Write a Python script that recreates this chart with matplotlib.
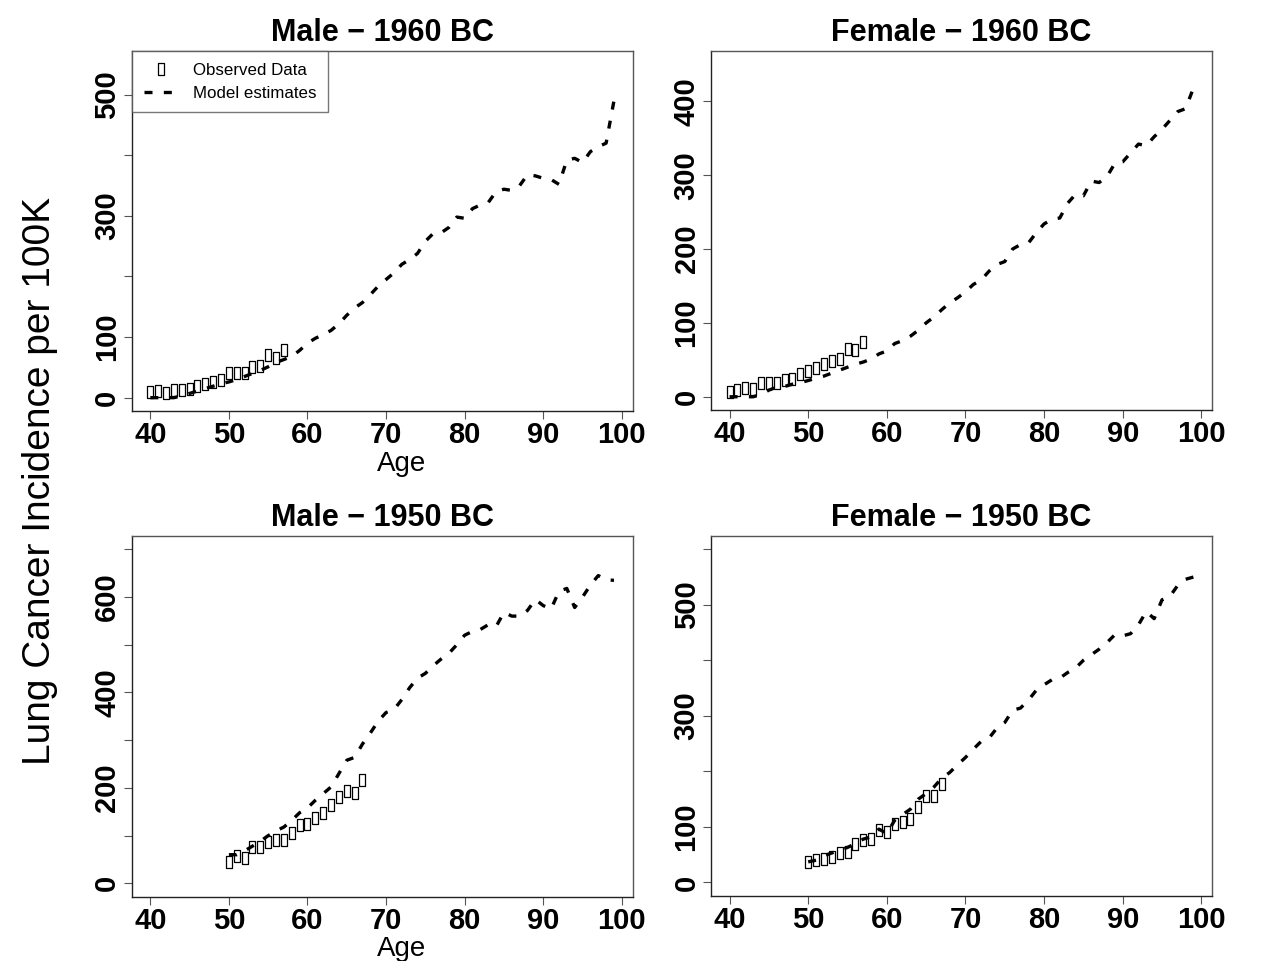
import matplotlib
matplotlib.use('Agg')
import matplotlib.pyplot as plt
import numpy as np

plt.rcParams['font.family'] = ['Liberation Sans', 'DejaVu Sans']

# --- data ---
obs_age_1960 = list(range(40, 58))
obs_age_1950 = list(range(50, 68))
model_age_1960 = list(range(40, 100))
model_age_1950 = list(range(50, 100))

male_1960_obs = [9, 11, 7, 12, 13, 14, 19, 23, 26, 29, 40, 41, 41, 51, 52, 70, 66, 78]
male_1960_model = [0, 0, 0, 0, 3, 7, 11, 15, 19, 23, 26, 30, 35, 40, 45, 51, 58, 63, 68, 78,
                   90, 98, 104, 111, 122, 136, 148, 157, 170, 184, 195, 206, 220, 228, 238,
                   258, 271, 272, 281, 298, 296, 312, 318, 322, 340, 344, 342, 350, 368, 366,
                   362, 360, 352, 392, 395, 388, 406, 414, 420, 490]

female_1960_obs = [7, 9, 12, 10, 18, 19, 19, 23, 24, 31, 35, 39, 44, 48, 51, 64, 63, 74]
female_1960_model = [0, 0, 0, 0, 3, 9, 13, 14, 17, 19, 22, 25, 28, 32, 36, 40, 44, 47, 51, 58,
                     62, 72, 76, 82, 90, 100, 108, 118, 127, 134, 142, 152, 158, 170, 179,
                     183, 200, 206, 208, 222, 234, 240, 242, 262, 274, 272, 292, 290, 298,
                     316, 318, 330, 342, 340, 352, 362, 374, 386, 390, 418]

male_1950_obs = [44, 58, 53, 76, 76, 86, 91, 91, 105, 123, 125, 137, 148, 164, 180, 194, 190, 217]
male_1950_model = [60, 60, 68, 78, 88, 100, 110, 118, 132, 148, 158, 174, 188, 202, 230, 258,
                   264, 292, 315, 340, 358, 364, 385, 410, 430, 440, 456, 470, 482, 500, 520,
                   528, 532, 542, 538, 568, 560, 560, 572, 595, 582, 575, 612, 618, 578, 600,
                   625, 645, 636, 635]

female_1950_obs = [36, 41, 43, 45, 53, 55, 69, 77, 78, 95, 91, 105, 109, 114, 135, 156, 155, 177]
female_1950_model = [37, 40, 48, 53, 58, 63, 70, 78, 82, 96, 88, 112, 122, 132, 150, 160, 172,
                     188, 198, 212, 225, 240, 254, 260, 278, 288, 310, 314, 328, 346, 356, 365,
                     368, 378, 386, 400, 410, 420, 432, 446, 444, 448, 464, 488, 475, 509, 515,
                     535, 546, 550]

# narrow open rectangle marker like the R plot
rect_marker = [(-0.25, -0.5), (0.25, -0.5), (0.25, 0.5), (-0.25, 0.5), (-0.25, -0.5)]

panels = [
    ('Male \u2212 1960 BC', obs_age_1960, male_1960_obs, model_age_1960, male_1960_model,
     550, range(0, 501, 100), [0, 100, 300, 500], [0.1044, 0.5723, 0.3968, 0.3746], True),
    ('Female \u2212 1960 BC', obs_age_1960, female_1960_obs, model_age_1960, female_1960_model,
     450, range(0, 401, 100), [0, 100, 200, 300, 400], [0.5634, 0.5733, 0.3970, 0.3736], False),
    ('Male \u2212 1950 BC', obs_age_1950, male_1950_obs, model_age_1950, male_1950_model,
     700, range(0, 701, 100), [0, 200, 400, 600], [0.1044, 0.0669, 0.3968, 0.3754], True),
    ('Female \u2212 1950 BC', obs_age_1950, female_1950_obs, model_age_1950, female_1950_model,
     600, range(0, 601, 100), [0, 100, 300, 500], [0.5634, 0.0679, 0.3970, 0.3744], False),
]

fig = plt.figure(figsize=(12.62, 9.61), dpi=100)

for i, (title, oa, ov, ma, mv, ymax, yticks, ylabs, rect, show_xlab) in enumerate(panels):
    ax = fig.add_axes(rect)
    ax.plot(ma, mv, color='black', lw=2.4, ls=(0, (2.4, 3.4)), label='Model estimates')
    ax.plot(oa, ov, ls='none', marker=rect_marker, ms=8, mec='black', mfc='none',
            mew=0.9, label='Observed Data')

    ax.set_xlim(40 - 59 * 0.04, 99 + 59 * 0.04)
    ax.set_ylim(-0.04 * ymax, ymax * 1.04)
    ax.set_xticks(range(40, 101, 10))
    ax.set_yticks(list(yticks))
    ax.set_yticklabels([str(t) if t in ylabs else '' for t in yticks],
                       rotation=90, va='center')
    ax.tick_params(axis='both', labelsize=21, length=6, width=0.8, color='#555555', pad=1.5)
    for lab in ax.get_xticklabels() + ax.get_yticklabels():
        lab.set_fontweight('bold')
    for sp in ax.spines.values():
        sp.set_color('#555555')
        sp.set_linewidth(1.0)
    ax.spines['left'].set_color('#222222')
    ax.spines['bottom'].set_color('#222222')

    ax.set_title(title, fontsize=22, fontweight='bold', pad=7)
    if show_xlab:
        ax.set_xlabel('Age', fontsize=20)
        ax.xaxis.set_label_coords(0.538, -0.11)

    if i == 0:
        h, l = ax.get_legend_handles_labels()
        leg = ax.legend(h[::-1], l[::-1], loc='upper left', fontsize=12.2,
                        frameon=True, fancybox=False, borderaxespad=0,
                        handlelength=2.0, handletextpad=0.9, borderpad=0.7,
                        labelspacing=0.45)
        leg.get_frame().set_edgecolor('#555555')
        leg.get_frame().set_linewidth(1.0)

fig.text(0.032, 0.5, 'Lung Cancer Incidence per 100K', rotation=90,
         fontsize=28, ha='center', va='center')

fig.savefig('out.png', dpi=100)
